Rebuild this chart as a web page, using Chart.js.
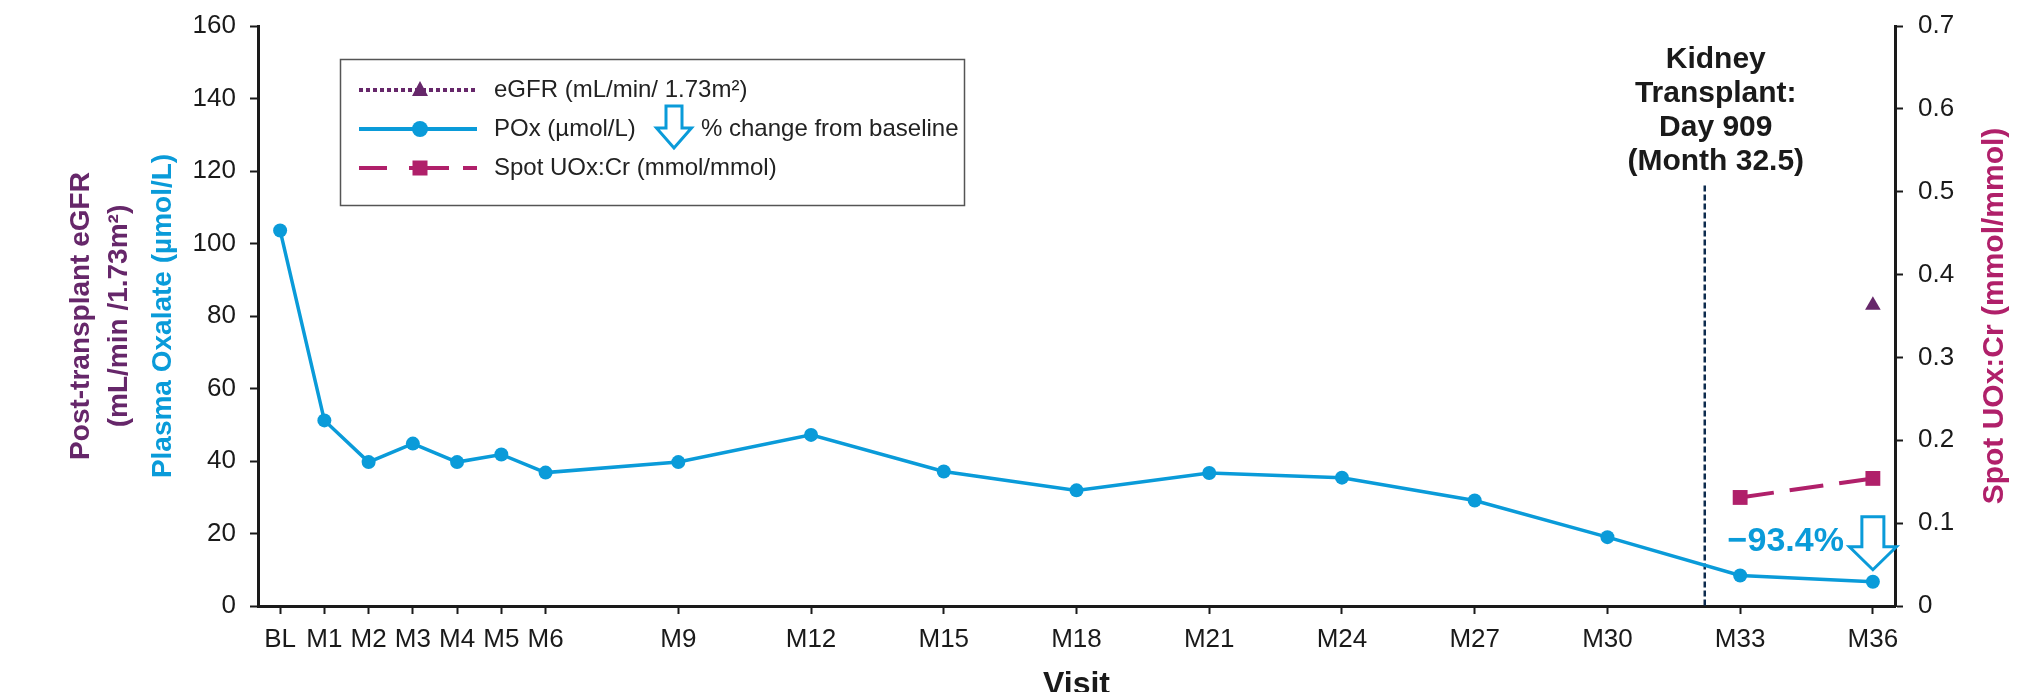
<!DOCTYPE html>
<html>
<head>
<meta charset="utf-8">
<script src="https://cdn.jsdelivr.net/npm/chart.js@4.4.1/dist/chart.umd.min.js"></script>
<style>
  html, body { margin: 0; padding: 0; background: #fff; }
  #wrap { width: 2031px; height: 692px; }
</style>
</head>
<body>
<div id="wrap"><canvas id="poxChart" width="2031" height="692"></canvas></div>
<script>
// visits, as months after baseline, and their axis labels
const visitMonths = [0, 1, 2, 3, 4, 5, 6, 9, 12, 15, 18, 21, 24, 27, 30, 33, 36];
const visitLabels = ['BL', 'M1', 'M2', 'M3', 'M4', 'M5', 'M6', 'M9', 'M12', 'M15', 'M18', 'M21', 'M24', 'M27', 'M30', 'M33', 'M36'];

// plasma oxalate (µmol/L) at every visit
const poxValues = [103.6, 51.2, 39.7, 44.8, 39.7, 41.8, 36.8, 39.7, 47.2, 37.1, 31.9, 36.7, 35.4, 29.1, 19.0, 8.4, 6.7];

// post-transplant eGFR (mL/min/1.73m²)
const egfrMonths = [36];
const egfrValues = [83];

// spot urine oxalate:creatinine (mmol/mmol)
const uoxMonths = [33, 36];
const uoxValues = [0.131, 0.154];

const transplantMonth = 32.2;
const transplantNote = ['Kidney', 'Transplant:', 'Day 909', '(Month 32.5)'];
const poxChangeLabel = '\u221293.4%';

const FONT = "'Liberation Sans', Arial, sans-serif";
const BLUE = '#0a9bd9';
const PURPLE = '#66276a';
const MAGENTA = '#b0206a';
const NAVY = '#0d2b4e';
const INK = '#1a1a1a';

function toPoints(xs, ys) {
  return xs.map((x, i) => ({ x, y: ys[i] }));
}

// hollow down arrow used for "% change from baseline"
function hollowArrow(ctx, cx, top, shoulder, tip, shaftW, headW) {
  ctx.beginPath();
  ctx.moveTo(cx - shaftW / 2, top);
  ctx.lineTo(cx + shaftW / 2, top);
  ctx.lineTo(cx + shaftW / 2, shoulder);
  ctx.lineTo(cx + headW / 2, shoulder);
  ctx.lineTo(cx, tip);
  ctx.lineTo(cx - headW / 2, shoulder);
  ctx.lineTo(cx - shaftW / 2, shoulder);
  ctx.closePath();
  ctx.fillStyle = '#fff';
  ctx.fill();
  ctx.strokeStyle = BLUE;
  ctx.lineWidth = 3;
  ctx.lineJoin = 'miter';
  ctx.stroke();
}

function vText(ctx, text, x, y, color, font) {
  ctx.save();
  ctx.translate(x, y);
  ctx.rotate(-Math.PI / 2);
  ctx.font = font;
  ctx.fillStyle = color;
  ctx.textAlign = 'center';
  ctx.textBaseline = 'middle';
  ctx.fillText(text, 0, 0);
  ctx.restore();
}

// ---- transplant marker (behind the data) ----
const transplantPlugin = {
  id: 'transplantPlugin',
  beforeDatasetsDraw(chart) {
    const { ctx, chartArea, scales: { x, y } } = chart;
    const px = x.getPixelForValue(transplantMonth);
    ctx.save();
    ctx.strokeStyle = NAVY;
    ctx.lineWidth = 2.5;
    ctx.setLineDash([6, 3]);
    ctx.beginPath();
    ctx.moveTo(px, y.getPixelForValue(116));
    ctx.lineTo(px, chartArea.bottom);
    ctx.stroke();
    ctx.setLineDash([]);

    ctx.font = `bold 30px ${FONT}`;
    ctx.fillStyle = INK;
    ctx.textAlign = 'center';
    ctx.textBaseline = 'alphabetic';
    transplantNote.forEach((line, i) => ctx.fillText(line, px + 11, 68 + i * 34));
    ctx.restore();
  }
};

// ---- titles, legend box, change arrow ----
const decorPlugin = {
  id: 'decorPlugin',
  afterDraw(chart) {
    const { ctx, chartArea, scales: { x, y } } = chart;
    const midY = (chartArea.top + chartArea.bottom) / 2;
    const bold = `bold 28px ${FONT}`;

    vText(ctx, 'Post-transplant eGFR', 81, midY, PURPLE, bold);
    vText(ctx, '(mL/min /1.73m\u00b2)', 119, midY, PURPLE, bold);
    vText(ctx, 'Plasma Oxalate (\u00b5mol/L)', 163, midY, BLUE, bold);
    vText(ctx, 'Spot UOx:Cr (mmol/mmol)', 1995, midY, MAGENTA, `bold 30px ${FONT}`);

    ctx.save();
    ctx.font = `bold 32px ${FONT}`;
    ctx.fillStyle = INK;
    ctx.textAlign = 'center';
    ctx.textBaseline = 'alphabetic';
    ctx.fillText('Visit', (chartArea.left + chartArea.right) / 2, 694);
    ctx.restore();

    // -93.4% annotation at the last visit
    const lastX = x.getPixelForValue(visitMonths[visitMonths.length - 1]);
    const lastY = y.getPixelForValue(poxValues[poxValues.length - 1]);
    ctx.save();
    ctx.font = `bold 34px ${FONT}`;
    ctx.fillStyle = BLUE;
    ctx.textAlign = 'right';
    ctx.textBaseline = 'alphabetic';
    ctx.fillText(poxChangeLabel, lastX - 29, lastY - 31);
    ctx.restore();
    hollowArrow(ctx, lastX, lastY - 65, lastY - 35, lastY - 12, 22, 47);

    // legend
    ctx.save();
    ctx.strokeStyle = '#555';
    ctx.lineWidth = 1.5;
    ctx.strokeRect(340.5, 59.5, 624, 146);

    const sx0 = 359, sx1 = 477, mx = 420;
    const rows = [90, 129, 168];
    ctx.lineCap = 'butt';

    // eGFR: dotted purple + triangle
    ctx.strokeStyle = PURPLE;
    ctx.fillStyle = PURPLE;
    ctx.lineWidth = 4;
    ctx.setLineDash([4, 3]);
    ctx.beginPath();
    ctx.moveTo(sx0, rows[0]);
    ctx.lineTo(sx1, rows[0]);
    ctx.stroke();
    ctx.setLineDash([]);
    ctx.beginPath();
    ctx.moveTo(mx, rows[0] - 9);
    ctx.lineTo(mx + 8, rows[0] + 6);
    ctx.lineTo(mx - 8, rows[0] + 6);
    ctx.closePath();
    ctx.fill();

    // POx: solid blue + circle
    ctx.strokeStyle = BLUE;
    ctx.fillStyle = BLUE;
    ctx.beginPath();
    ctx.moveTo(sx0, rows[1]);
    ctx.lineTo(sx1, rows[1]);
    ctx.stroke();
    ctx.beginPath();
    ctx.arc(mx, rows[1], 8, 0, Math.PI * 2);
    ctx.fill();

    // UOx:Cr: long dashes + square
    ctx.strokeStyle = MAGENTA;
    ctx.fillStyle = MAGENTA;
    ctx.setLineDash([28, 22, 40, 14]);
    ctx.beginPath();
    ctx.moveTo(sx0, rows[2]);
    ctx.lineTo(sx1, rows[2]);
    ctx.stroke();
    ctx.setLineDash([]);
    ctx.fillRect(mx - 7.5, rows[2] - 7.5, 15, 15);

    ctx.font = `24px ${FONT}`;
    ctx.fillStyle = '#222';
    ctx.textAlign = 'left';
    ctx.textBaseline = 'middle';
    ctx.fillText('eGFR (mL/min/ 1.73m\u00b2)', 494, rows[0]);
    ctx.fillText('POx (\u00b5mol/L)', 494, rows[1]);
    ctx.fillText('% change from baseline', 701, rows[1]);
    ctx.fillText('Spot UOx:Cr (mmol/mmol)', 494, rows[2]);
    ctx.restore();
    hollowArrow(ctx, 674, 106, 128, 148, 16, 35);
  }
};

const axisLine = { color: INK, width: 3 };
const tickMarks = { drawOnChartArea: false, color: INK, tickLength: 8, tickWidth: 2 };

// fixed gutters so the plot area lines up with the reference
function fixedWidth(w) {
  return s => { s.width = w; s.paddingTop = 0; s.paddingBottom = 0; };
}

new Chart(document.getElementById('poxChart'), {
  type: 'line',
  data: {
    datasets: [
      {
        label: 'POx (\u00b5mol/L)',
        data: toPoints(visitMonths, poxValues),
        yAxisID: 'y',
        borderColor: BLUE,
        backgroundColor: BLUE,
        borderWidth: 3.5,
        pointRadius: 7,
        pointBorderWidth: 0,
        tension: 0,
        order: 2
      },
      {
        label: 'eGFR (mL/min/ 1.73m\u00b2)',
        data: toPoints(egfrMonths, egfrValues),
        yAxisID: 'y',
        showLine: false,
        pointStyle: 'triangle',
        pointRadius: 9,
        pointBorderWidth: 0,
        borderColor: PURPLE,
        backgroundColor: PURPLE,
        order: 1
      },
      {
        label: 'Spot UOx:Cr (mmol/mmol)',
        data: toPoints(uoxMonths, uoxValues),
        yAxisID: 'y2',
        borderColor: MAGENTA,
        backgroundColor: MAGENTA,
        borderWidth: 4,
        borderDash: [34, 16],
        pointStyle: 'rect',
        pointRadius: 10.5,
        pointBorderWidth: 0,
        order: 1
      }
    ]
  },
  options: {
    responsive: false,
    animation: false,
    events: [],
    layout: { padding: { top: 26, left: 0, right: 0, bottom: 0 } },
    scales: {
      x: {
        type: 'linear',
        min: -0.5,
        max: 36.5,
        afterBuildTicks: s => { s.ticks = visitMonths.map(v => ({ value: v })); },
        afterFit: s => { s.height = 86; s.paddingLeft = 0; s.paddingRight = 0; },
        ticks: {
          autoSkip: false,
          maxRotation: 0,
          color: INK,
          padding: 10,
          font: { family: FONT, size: 26 },
          callback: v => visitLabels[visitMonths.indexOf(v)]
        },
        grid: tickMarks,
        border: axisLine
      },
      y: {
        position: 'left',
        min: 0,
        max: 160,
        afterFit: fixedWidth(258),
        ticks: { stepSize: 20, color: INK, padding: 14, font: { family: FONT, size: 26 } },
        grid: tickMarks,
        border: axisLine
      },
      y2: {
        position: 'right',
        min: 0,
        max: 0.7,
        afterFit: fixedWidth(136),
        ticks: {
          stepSize: 0.1,
          color: INK,
          padding: 15,
          font: { family: FONT, size: 26 },
          callback: v => (v === 0 ? '0' : v.toFixed(1))
        },
        grid: tickMarks,
        border: axisLine
      }
    },
    plugins: {
      legend: { display: false },
      tooltip: { enabled: false }
    }
  },
  plugins: [transplantPlugin, decorPlugin]
});
</script>
</body>
</html>
